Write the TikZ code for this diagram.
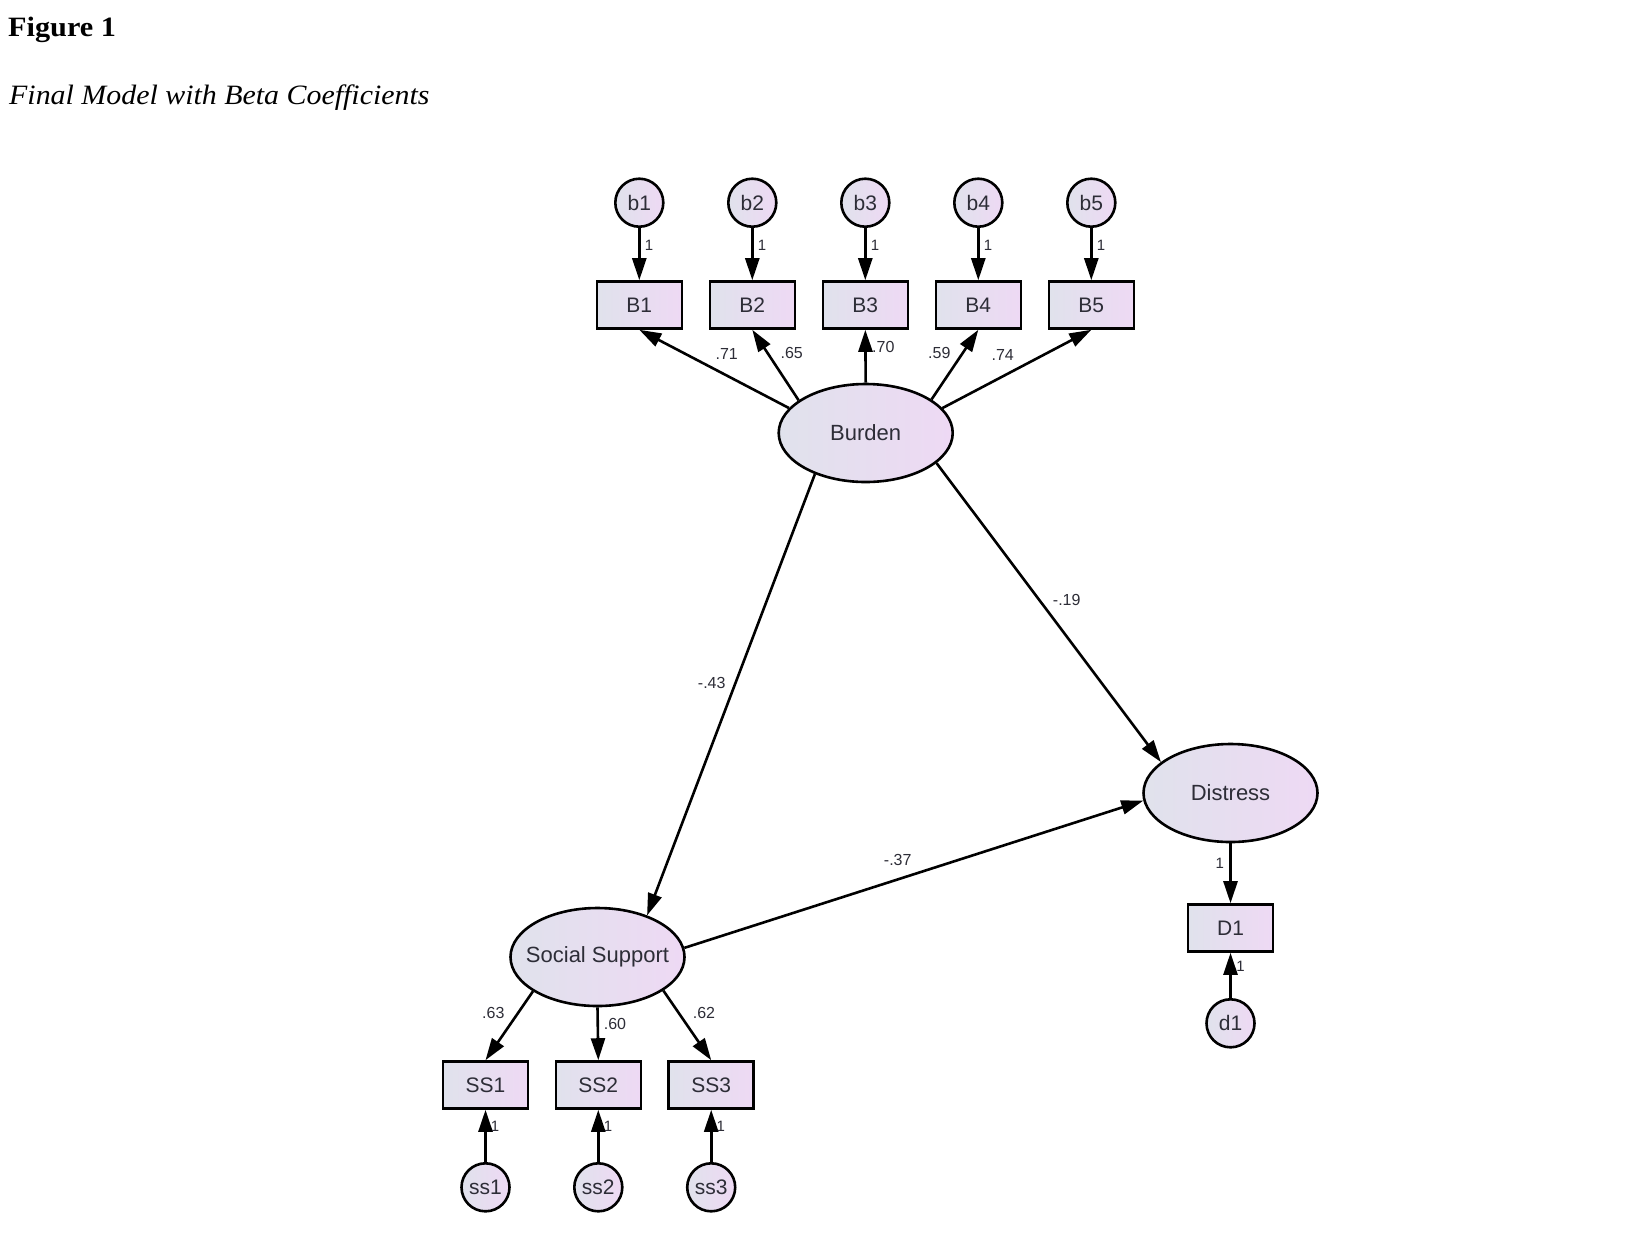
\documentclass[tikz,border=0pt]{standalone}
\usepackage{fontspec}
\setmainfont{Liberation Serif}
\newfontfamily\arialf{Liberation Sans}
\usetikzlibrary{shapes.geometric,arrows.meta}
\definecolor{fillL}{RGB}{224,226,236}
\definecolor{fillR}{RGB}{238,217,244}
\definecolor{txt}{RGB}{45,45,55}
\newcommand{\zb}[1]{\makebox[0pt]{#1}}
\begin{document}
\begin{tikzpicture}[x=1pt,y=-1pt,
  obs/.style={draw=black, line width=2.6pt, rectangle, minimum width=85pt, minimum height=47pt, inner sep=0pt, left color=fillL, right color=fillR, text=txt, font=\arialf\fontsize{21}{24}\selectfont},
  lat/.style={draw=black, ellipse, line width=2.6pt, minimum width=174pt, minimum height=98pt, inner sep=0pt, left color=fillL, right color=fillR, text=txt, font=\arialf\fontsize{22}{25}\selectfont},
  err/.style={draw=black, circle, line width=2.6pt, minimum size=48pt, inner sep=0pt, left color=fillL, right color=fillR, text=txt, font=\arialf\fontsize{21}{24}\selectfont},
  arr/.style={-{Triangle[length=22pt,width=14pt]}, line width=2.6pt},
  lbl/.style={text=txt, font=\arialf\fontsize{16}{19}\selectfont, inner sep=0pt},
  one/.style={text=txt, font=\arialf\fontsize{15}{18}\selectfont, inner sep=0pt},
]
\fill[white] (0,0) rectangle (1629,1240);
\useasboundingbox (0,0) rectangle (1629,1240);

% titles
\node[anchor=base west, inner sep=0pt, font=\fontsize{28}{32}\selectfont\bfseries] (fig) at (8,36.7) {\scalebox{1.08}[1]{Figure 1}};
\node[anchor=base west, inner sep=0pt, font=\fontsize{28}{32}\selectfont\itshape] (sub) at (9,104) {\scalebox{1.068}[1]{Final Model with Beta Coefficients}};

% Burden block
\node[err] (b1) at (639.3,202.7) {b1};
\node[err] (b2) at (752.3,202.7) {b2};
\node[err] (b3) at (865.3,202.7) {b3};
\node[err] (b4) at (978.3,202.7) {b4};
\node[err] (b5) at (1091.3,202.7) {b5};
\node[obs] (B1) at (639.3,305) {B1};
\node[obs] (B2) at (752.3,305) {B2};
\node[obs] (B3) at (865.3,305) {B3};
\node[obs] (B4) at (978.3,305) {B4};
\node[obs] (B5) at (1091.3,305) {B5};
\node[lat] (Burden) at (865.7,433) {\zb{Burden}};

% Social support block
\node[lat] (SS) at (597.5,957) {\zb{Social Support}};
\node[obs] (SS1) at (485.5,1085) {SS1};
\node[obs] (SS2) at (598.3,1085) {SS2};
\node[obs] (SS3) at (711.2,1085) {SS3};
\node[err] (ss1) at (485.5,1187.3) {ss1};
\node[err] (ss2) at (598.3,1187.3) {ss2};
\node[err] (ss3) at (711.2,1187.3) {ss3};

% Distress block
\node[lat] (Dis) at (1230.5,793) {\zb{Distress}};
\node[obs] (D1) at (1230.5,928) {D1};
\node[err] (d1) at (1230.5,1023.3) {d1};

% error arrows
\foreach \i/\x in {1/639.3,2/752.3,3/865.3,4/978.3,5/1091.3}{
  \draw[arr] (b\i) -- (B\i.north) node[one] at (\x+9.7,245) {1};
}
\draw[arr] (ss1) -- (SS1.south) node[one] at (495,1126.7) {1};
\draw[arr] (ss2) -- (SS2.south) node[one] at (608,1126.7) {1};
\draw[arr] (ss3) -- (SS3.south) node[one] at (720.7,1126.7) {1};
\draw[arr] (Dis.south) -- (D1.north) node[one] at (1219.8,863.3) {1};
\draw[arr] (d1) -- (D1.south) node[one] at (1240.5,966.7) {1};

% loadings
\draw[arr] (Burden.162) -- (B1.south) node[lbl] at (726.7,354.3) {.71};
\draw[arr] (Burden.154) -- (B2.south) node[lbl] at (791.7,352.7) {.65};
\draw[arr] (Burden.north) -- (B3.south) node[lbl] at (883.3,346.7) {.70};
\draw[arr] (Burden.27.4) -- (B4.south) node[lbl] at (939.3,352.7) {.59};
\draw[arr] (Burden.18.3) -- (B5.south) node[lbl] at (1002.7,355) {.74};

\draw[arr] (SS.208.3) -- (SS1.north) node[lbl] at (493.3,1012.7) {.63};
\draw[arr] (SS.south) -- (SS2.north) node[lbl] at (615,1024) {.60};
\draw[arr] (SS.333.4) -- (SS3.north) node[lbl] at (704,1012.7) {.62};

% structural paths
\draw[arr] (Burden.219.6) -- (SS.40.7) node[lbl] at (711.7,683.3) {-.43};
\draw[arr] (Burden.-23.8) -- (Dis.156.7) node[lbl] at (1066.7,600) {-.19};
\draw[arr] (SS.6.6) -- (Dis.185.4) node[lbl] at (897.7,860) {-.37};
\end{tikzpicture}
\end{document}
